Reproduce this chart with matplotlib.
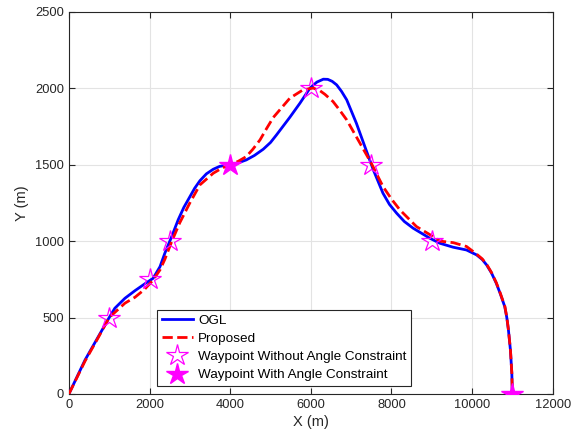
import matplotlib.pyplot as plt

plt.rcParams['font.family'] = ['Liberation Sans', 'DejaVu Sans']

# OGL trajectory
ogl_x = [0, 400, 730, 1000, 1140, 1390, 1640, 1880, 2090, 2260, 2380, 2550, 2710,
         2850, 3000, 3120, 3250, 3410, 3580, 3740, 4000, 4200, 4400, 4600, 4820,
         5000, 5150, 5480, 5730, 5980, 6150, 6310, 6420, 6530, 6640, 6760, 6890,
         7130, 7340, 7550, 7790, 7950, 8130, 8320, 8540, 8950, 9200, 9530, 9860,
         10110, 10250, 10360, 10480, 10600, 10700, 10810, 10860, 10900, 10950,
         10985, 10995, 11000]
ogl_y = [0, 222, 375, 500, 561, 626, 676, 720, 757, 833, 921, 1030, 1139,
         1220, 1290, 1346, 1395, 1440, 1470, 1489, 1500, 1512, 1531, 1560, 1601,
         1645, 1695, 1810, 1902, 2001, 2040, 2059, 2058, 2045, 2022, 1980, 1924,
         1771, 1618, 1466, 1313, 1240, 1182, 1128, 1084, 1019, 986, 960, 942,
         910, 880, 844, 792, 724, 655, 571, 500, 420, 288,
         135, 26, 0]

# Proposed trajectory
prop_x = [0, 400, 730, 1000, 1390, 1640, 1880, 2090, 2260, 2380, 2550, 2750, 3000,
          3250, 3580, 3800, 4000, 4200, 4400, 4560, 4740, 4900, 5070, 5480, 5810,
          6060, 6220, 6350, 6550, 6700, 6890, 7220, 7500, 7790, 8000, 8210, 8620,
          9030, 9200, 9530, 9860, 10110, 10250, 10360, 10480, 10600, 10700, 10810,
          10860, 10900, 10950, 10985, 10995, 11000]
prop_y = [0, 215, 370, 500, 594, 633, 685, 746, 812, 881, 997, 1120, 1250,
          1368, 1444, 1478, 1500, 1522, 1553, 1600, 1662, 1735, 1809, 1935, 1990,
          2001, 1985, 1960, 1913, 1862, 1793, 1640, 1509, 1357, 1275, 1204, 1095,
          1030, 1000, 990, 965, 915, 884, 848, 795, 728, 658, 575,
          503, 422, 290, 137, 27, 0]

# waypoints
wp_free_x = [1000, 2000, 2500, 6000, 7500, 9000]
wp_free_y = [500, 750, 1000, 2000, 1500, 1000]
wp_ang_x = [4000, 11000]
wp_ang_y = [1500, 0]

fig = plt.figure(figsize=(5.74, 4.46), dpi=100)
ax = fig.add_axes([0.120, 0.1166, 0.843, 0.857])

ax.plot(ogl_x, ogl_y, color='#0000ff', lw=2, label='OGL', zorder=3)
ax.plot(prop_x, prop_y, color='#ff0000', lw=2, ls='--', label='Proposed', zorder=4)
ax.plot(wp_free_x, wp_free_y, ls='none', marker='*', ms=16, mfc='none',
        mec='#ff00ff', mew=0.9, label='Waypoint Without Angle Constraint', zorder=5)
ax.plot(wp_ang_x, wp_ang_y, ls='none', marker='*', ms=16, mfc='#ff00ff',
        mec='#ff00ff', label='Waypoint With Angle Constraint', zorder=5)

ax.set_xlim(0, 12000)
ax.set_ylim(0, 2500)
ax.set_xticks(range(0, 12001, 2000))
ax.set_yticks(range(0, 2501, 500))
ax.grid(True, color='#e3e3e3', lw=0.8)
ax.set_axisbelow(True)
ax.tick_params(direction='in', top=True, right=True, length=4, labelsize=9.3,
               colors='#262626')
for s in ax.spines.values():
    s.set_color('#262626')
    s.set_linewidth(0.8)

ax.set_xlabel('X (m)', fontsize=10.5, color='#262626', labelpad=3)
ax.set_ylabel('Y (m)', fontsize=10.5, color='#262626', labelpad=4)

leg = ax.legend(loc='lower left', bbox_to_anchor=(0.182, 0.021), borderaxespad=0,
                fontsize=9.7, fancybox=False, framealpha=1, edgecolor='#262626',
                handlelength=2.3, handletextpad=0.4, labelspacing=0.42,
                borderpad=0.35, markerscale=1.0)
leg.get_frame().set_linewidth(0.8)

fig.savefig('out.png', dpi=100)
